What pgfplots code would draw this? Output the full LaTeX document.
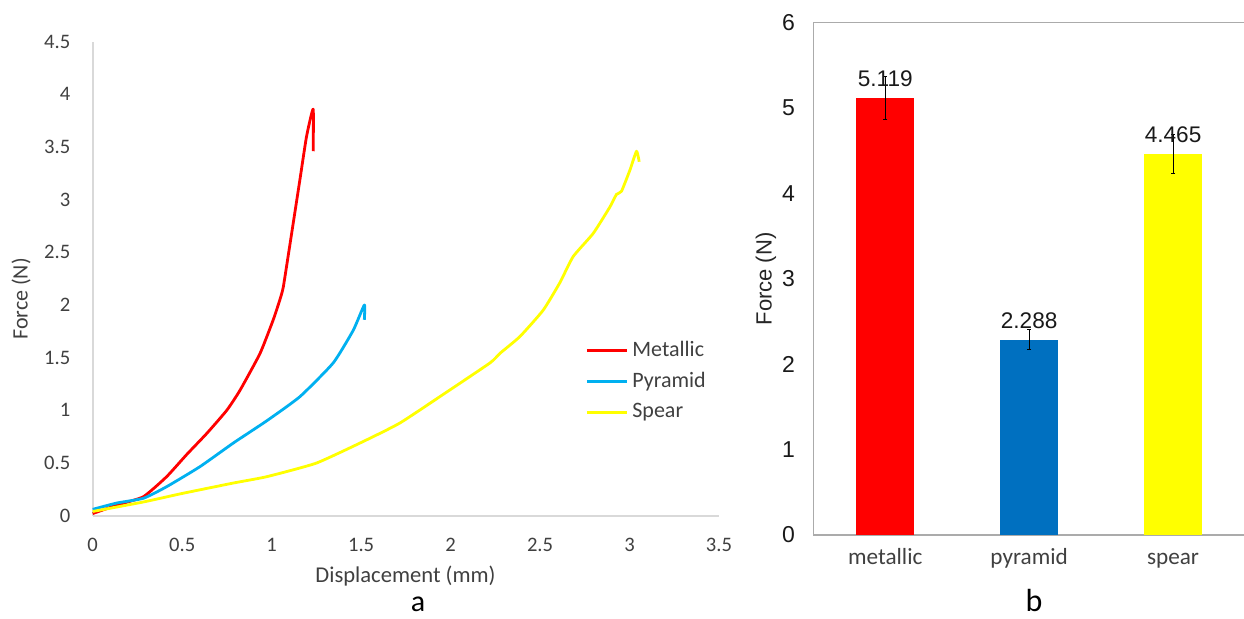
\documentclass[border=0pt]{standalone}
\usepackage{pgfplots}
\pgfplotsset{compat=1.18}
\usepackage{fontspec}
\setmainfont{Carlito}
\newfontfamily\arialf{Liberation Sans}
\definecolor{mred}{HTML}{FF0000}
\definecolor{mblue}{HTML}{00B0F0}
\definecolor{myellow}{HTML}{FFFF00}
\definecolor{bblue}{HTML}{0070C0}
\definecolor{lgrid}{HTML}{D9D9D9}
\definecolor{rgrid}{HTML}{ABABAB}
\definecolor{tickc}{HTML}{404040}
\begin{document}
\begin{tikzpicture}
\useasboundingbox (0,0) rectangle (622pt,309.5pt);
\begin{axis}[
  at={(46.35pt,51.65pt)}, anchor=south west, scale only axis,
  width=313.15pt, height=237pt,
  xmin=0, xmax=3.5, ymin=0, ymax=4.5,
  xtick={0,0.5,1,1.5,2,2.5,3,3.5},
  ytick={0,0.5,1,1.5,2,2.5,3,3.5,4,4.5},
  axis x line*=bottom, axis y line*=left,
  axis line style={draw=lgrid, line width=1pt, -},
  x axis line style={-}, y axis line style={-},
  major tick length=0pt,
  /pgf/number format/assume math mode=true,
  ticklabel style={font=\fontsize{10.3}{12}\selectfont, text=tickc},
  xticklabel style={anchor=base, inner sep=0pt, yshift=-18pt},
  yticklabel style={anchor=east, inner sep=0pt, xshift=-11pt},
  legend cell align=left,
  legend image code/.code={\draw[#1, line width=1.5pt] (0pt,0pt) -- (20pt,0pt);},
  legend style={at={(0.786,0.378)}, anchor=north west, draw=none, fill=none,
    font=\fontsize{11}{13}\selectfont, text=tickc, row sep=2.5pt, inner sep=0pt},
  clip=false,
]
\addplot[mred, line width=1.4pt, line join=round, smooth, tension=0.3] coordinates {
(0,0.02) (0.134,0.10) (0.283,0.18) (0.413,0.37) (0.525,0.58) (0.637,0.78)
(0.749,1.00) (0.823,1.19) (0.935,1.54) (1.009,1.86) (1.046,2.05) (1.065,2.17)
(1.10,2.55) (1.158,3.19) (1.195,3.60) (1.232,3.86) (1.232,3.46)};
\addlegendentry{Metallic}
\addplot[mblue, line width=1.4pt, line join=round, smooth, tension=0.3] coordinates {
(0,0.06) (0.134,0.12) (0.283,0.165) (0.413,0.275) (0.599,0.465) (0.786,0.69)
(0.972,0.90) (1.158,1.13) (1.344,1.45) (1.456,1.76) (1.518,2.0) (1.518,1.86)};
\addlegendentry{Pyramid}
\addplot[myellow, line width=1.4pt, line join=round, smooth, tension=0.3] coordinates {
(0,0.04) (0.283,0.13) (0.497,0.21) (0.786,0.31) (0.972,0.37) (1.251,0.50)
(1.531,0.72) (1.717,0.88) (1.94,1.13) (2.22,1.45) (2.275,1.54) (2.387,1.70)
(2.517,1.95) (2.61,2.21) (2.685,2.46) (2.797,2.68) (2.89,2.93) (2.927,3.05)
(2.955,3.08) (3.002,3.28) (3.039,3.46) (3.054,3.36)};
\addlegendentry{Spear}
\end{axis}
\begin{axis}[
  at={(406.65pt,42pt)}, anchor=south west, scale only axis,
  width=215.85pt, height=256.15pt,
  xmin=-0.5, xmax=2.5, ymin=0, ymax=6,
  xtick={0,1,2}, xticklabels={metallic,pyramid,spear},
  ytick={0,1,2,3,4,5,6},
  axis x line*=bottom, axis y line*=left,
  axis line style={draw=rgrid, line width=0.8pt, -},
  x axis line style={-}, y axis line style={-},
  major tick length=0pt,
  ybar, bar width=29pt, bar shift=0pt,
  /pgf/number format/assume math mode=true,
  yticklabel style={font=\arialf\fontsize{11.5}{13}\selectfont, text=black!90, anchor=east, inner sep=0pt, xshift=-9pt},
  xticklabel style={font=\fontsize{11.6}{13}\selectfont, text=tickc, anchor=base, inner sep=0pt, yshift=-15pt},
  nodes near coords={\pgfmathprintnumber[fixed,fixed zerofill,precision=3]{\pgfplotspointmeta}},
  every node near coord/.append style={font=\arialf\fontsize{11.3}{13}\selectfont, anchor=center, yshift=9.7pt, text=black!90},
  error bars/y dir=both, error bars/y explicit,
  error bars/error bar style={black, line width=0.5pt},
  error bars/error mark options={rotate=90, mark size=1pt, black, line width=0.5pt},
  clip=false,
]
\addplot[fill=mred, draw=none] coordinates {(0,5.119) +- (0,0.25)};
\addplot[fill=bblue, draw=none] coordinates {(1,2.288) +- (0,0.12)};
\addplot[fill=myellow, draw=none] coordinates {(2,4.465) +- (0,0.23)};
\draw[rgrid, line width=0.8pt] (rel axis cs:0,1) -- (rel axis cs:1,1);
\end{axis}
\node[font=\fontsize{11.3}{13}\selectfont, text=tickc, anchor=base, inner sep=0pt] at (202.75pt,18pt) {Displacement (mm)};
\node[rotate=90, font=\fontsize{11}{13}\selectfont, text=tickc] at (10.5pt,160pt) {Force (N)};
\node[rotate=90, font=\arialf\fontsize{11}{13}\selectfont, text=black!85] at (383pt,170pt) {Force (N)};
\node[font=\fontsize{15}{17}\selectfont, anchor=base, inner sep=0pt] at (209pt,3.8pt) {a};
\node[font=\fontsize{16}{18}\selectfont, anchor=base, inner sep=0pt] at (517pt,3.65pt) {b};
\end{tikzpicture}
\end{document}
